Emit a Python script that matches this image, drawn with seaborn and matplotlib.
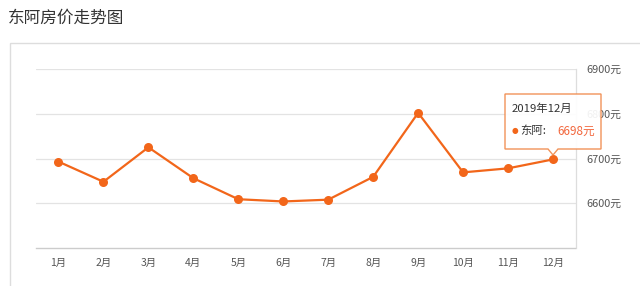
import matplotlib
matplotlib.use("Agg")
import matplotlib.pyplot as plt
import seaborn as sns
import pandas as pd
from matplotlib.patches import Rectangle, Polygon

months = ["1月", "2月", "3月", "4月", "5月", "6月", "7月", "8月", "9月", "10月", "11月", "12月"]
prices = [6693, 6648, 6725, 6656, 6609, 6604, 6608, 6659, 6802, 6669, 6678, 6698]
y_ticks = [6600, 6700, 6800, 6900]
y_tick_labels = ["6600元", "6700元", "6800元", "6900元"]
title = "东阿房价走势图"
tip_title = "2019年12月"
tip_series = "东阿:"
tip_value = "6698元"

sns.set_theme(style="white")
plt.rcParams['font.family'] = ['Noto Sans CJK SC', 'DejaVu Sans']

W, H = 640, 286
fig = plt.figure(figsize=(W / 100, H / 100), dpi=100)

def fx(x):
    return x / W

def fy(y):
    return 1 - y / H

ax = fig.add_axes([fx(36), fy(248), (575.5 - 36) / W, (248 - 69) / H])

df = pd.DataFrame({"month": months, "price": prices})
orange = "#F2661A"
sns.lineplot(data=df, x="month", y="price", ax=ax, color=orange, linewidth=1.6,
             marker="o", markersize=6.5, markeredgewidth=0, sort=False)

ax.set_xlim(-0.5, len(months) - 0.5)
ax.set_ylim(6500, 6900)
ax.set_xlabel("")
ax.set_ylabel("")

ax.yaxis.tick_right()
ax.set_yticks(y_ticks)
ax.set_yticklabels(y_tick_labels)
ax.tick_params(axis="y", length=0, pad=8, labelsize=7.8, labelcolor="#555555")
ax.tick_params(axis="x", length=3, width=0.8, color="#d8d8d8", direction="out",
               pad=4, labelsize=7.5, labelcolor="#555555")
ax.grid(axis="y", color="#e3e3e3", linewidth=0.9)
ax.grid(axis="x", visible=False)
ax.set_axisbelow(True)

for s in ["left", "top"]:
    ax.spines[s].set_visible(False)
ax.spines["right"].set_color("#dddddd")
ax.spines["right"].set_linewidth(0.9)
ax.spines["bottom"].set_color("#cccccc")
ax.spines["bottom"].set_linewidth(1.0)

# outer panel box
fig.add_artist(Rectangle((fx(9.5), fy(300)), fx(700), (300 - 43) / H,
                         transform=fig.transFigure, fill=False,
                         edgecolor="#dddddd", linewidth=1.0, clip_on=False))

# title
fig.text(fx(8), fy(18), title, fontsize=12, color="#333333", va="center", ha="left")

# tooltip
verts = [(505, 94), (601, 94), (601, 149), (558, 149), (553, 155), (548, 149), (505, 149)]
fig.add_artist(Polygon([(fx(a), fy(b)) for a, b in verts], closed=True,
                       transform=fig.transFigure, facecolor="white", alpha=0.92,
                       edgecolor="#F08A4B", linewidth=1.0, zorder=10))
fig.text(fx(512), fy(109), tip_title, fontsize=8.2, color="#333333",
         va="center", ha="left", zorder=11)
fig.text(fx(514.5), fy(131), "●", fontsize=5.5, color=orange,
         va="center", ha="center", zorder=11, family=['DejaVu Sans'])
fig.text(fx(520), fy(131), tip_series, fontsize=8.2, color="#333333",
         va="center", ha="left", zorder=11)
fig.text(fx(557), fy(131), tip_value, fontsize=8.4, color="#F2663C",
         va="center", ha="left", zorder=11)

fig.savefig("out.png", dpi=100, facecolor="white")
